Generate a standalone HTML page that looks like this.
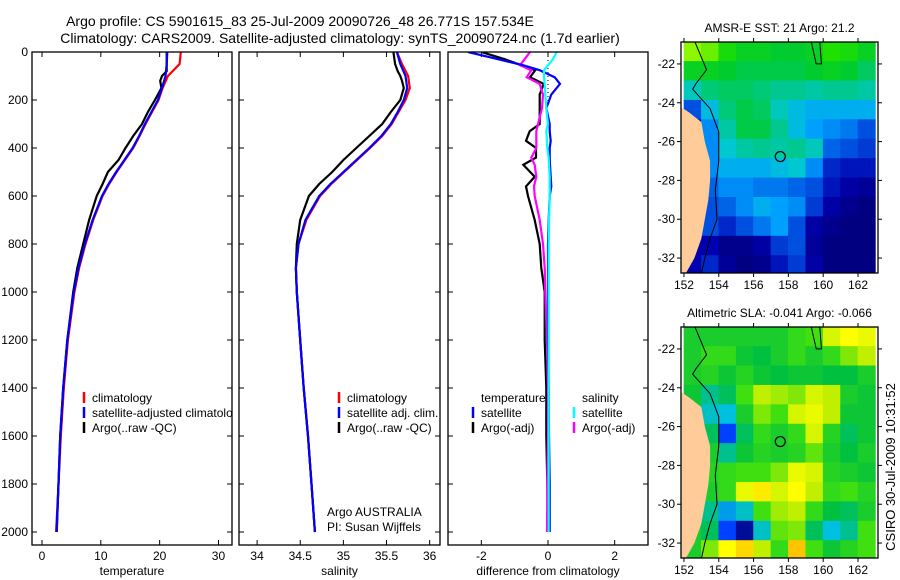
<!DOCTYPE html>
<html><head><meta charset="utf-8"><style>
body{margin:0;background:#fff}
svg{display:block;font-family:"Liberation Sans",sans-serif}
</style></head><body>
<svg id="fig" width="900" height="580" viewBox="0 0 900 580" xmlns="http://www.w3.org/2000/svg">
<text x="300" y="26" font-size="14" text-anchor="middle">Argo profile: CS 5901615_83 25-Jul-2009 20090726_48 26.771S 157.534E</text>
<text x="340" y="43" font-size="14" text-anchor="middle">Climatology: CARS2009. Satellite-adjusted climatology: synTS_20090724.nc (1.7d earlier)</text>
<text transform="translate(895,467) rotate(-90)" font-size="13" text-anchor="middle">CSIRO 30-Jul-2009 10:31:52</text>
</svg>
<script>
// ---------- profile data ----------
const depthStd = [0,50,100,150,200,250,300,350,400,450,500,550,600,700,800,900,1000,1200,1400,1600,1800,2000];
const tempClim = [23.6,23.4,21.4,20.5,19.8,18.7,17.6,16.6,15.5,14.1,12.7,11.4,10.3,8.7,7.4,6.3,5.5,4.4,3.7,3.2,2.8,2.4];
const tempSat  = [21.3,21.2,21.0,20.4,19.7,18.6,17.5,16.5,15.4,14.0,12.6,11.3,10.2,8.6,7.3,6.2,5.4,4.3,3.6,3.1,2.8,2.5];
const depthArgo = [0,50,80,100,120,150,200,250,300,350,400,450,500,550,600,700,800,900,1000,1200,1400,1600,1800,2000];
const tempArgo  = [21.2,21.2,21.2,20.4,20.1,20.3,19.2,18.0,17.0,15.5,14.2,13.0,11.2,10.3,9.3,8.0,7.0,6.0,5.3,4.3,3.6,3.1,2.8,2.5];
const salClim = [35.62,35.68,35.75,35.77,35.72,35.64,35.56,35.45,35.31,35.16,35.01,34.86,34.73,34.57,34.48,34.45,34.46,34.50,34.54,34.59,34.63,34.67];
const salSat  = [35.62,35.66,35.72,35.74,35.70,35.63,35.55,35.44,35.30,35.15,35.00,34.85,34.72,34.56,34.48,34.45,34.46,34.50,34.54,34.59,34.63,34.67];
const salArgo = [35.58,35.60,35.63,35.66,35.68,35.70,35.66,35.55,35.45,35.30,35.15,35.00,34.87,34.72,34.60,34.50,34.46,34.45,34.46,34.50,34.54,34.59,34.63,34.67];
const depthDiff = [0,30,55,76,105,133,177,234,300,330,370,400,440,470,520,560,600,700,800,900,1000,1200,1400,1600,1800,2000];
const dTempSat  = [-2.4,-1.5,-0.75,-0.25,0.2,0.36,0.1,-0.05,0.05,0.05,0.08,0.05,0.05,0.06,0.08,0.1,0.05,0.02,0.0,0.0,0.0,0.0,0.02,0.03,0.05,0.05];
const dTempArgo = [-2.0,-1.3,-0.8,-0.38,-0.54,-0.13,-0.25,-0.25,-0.25,-0.55,-0.66,-0.36,-0.36,-0.74,-0.4,-0.66,-0.6,-0.4,-0.25,-0.2,-0.1,-0.1,-0.05,-0.05,-0.02,0.0];
const dSalSat   = [0.26,0.15,0.0,-0.12,-0.12,-0.1,-0.08,-0.05,0.0,-0.05,-0.03,-0.02,0.02,0.03,0.05,0.05,0.05,0.03,0.02,0.02,0.02,0.02,0.02,0.02,0.02,0.02];
const dSalArgo  = [-0.54,-0.7,-0.84,-0.5,-0.64,-0.25,-0.15,-0.18,-0.3,-0.35,-0.35,-0.35,-0.5,-0.4,-0.35,-0.42,-0.4,-0.25,-0.15,-0.1,-0.08,-0.03,0.0,0.0,-0.02,-0.03];
const depthTicks = [0,200,400,600,800,1000,1200,1400,1600,1800,2000];
const tempTicks = [0,10,20,30];
const salTicks = [34,34.5,35,35.5,36];
const salTickLabels = ["34","34.5","35","35.5","36"];
const diffTicks = [-2,0,2];

// ---------- map data (1-degree cells, rows from -21 southward, cols 152..162) ----------
const mapLons = [152,153,154,155,156,157,158,159,160,161,162];
const mapLats = [-21,-22,-23,-24,-25,-26,-27,-28,-29,-30,-31,-32];
const sstRows = [
[22.6,22.5,22.2,22.0,22.0,21.9,21.9,22.0,22.3,22.2,22.0],
[22.0,22.0,21.9,21.8,21.8,21.8,21.8,21.9,22.0,21.9,21.7],
[21.3,21.6,21.7,21.7,21.6,21.5,21.5,21.4,21.5,21.5,21.4],
[20.5,21.1,21.6,21.8,21.7,21.3,21.1,21.0,21.0,21.0,21.0],
[20.2,20.8,21.4,21.8,21.8,21.5,21.1,20.9,20.8,20.7,20.5],
[20.3,20.8,21.2,21.4,21.5,21.4,21.5,21.3,20.6,20.5,20.4],
[20.4,20.8,21.0,21.0,21.0,21.1,21.2,20.8,20.3,20.2,20.2],
[20.5,20.6,20.8,20.8,20.7,20.7,20.6,20.5,20.2,20.0,19.9],
[20.4,20.5,20.6,20.8,21.0,20.9,20.8,20.4,20.0,19.8,19.7],
[20.0,20.5,20.3,20.5,20.7,20.9,20.5,20.0,19.8,19.7,19.7],
[20.0,20.1,19.8,19.8,20.0,20.4,20.5,19.9,19.7,19.7,19.7],
[20.1,20.3,19.9,19.7,19.8,20.2,20.4,20.0,19.7,19.7,19.7]];
const slaRows = [
[-0.05,-0.05,-0.05,-0.05,-0.05,-0.05,-0.03,-0.02,0.03,0.05,0.04],
[-0.05,-0.03,-0.03,-0.06,-0.07,-0.05,-0.03,-0.05,-0.03,0.0,0.02],
[-0.05,-0.04,-0.06,-0.04,-0.06,-0.07,-0.06,-0.06,-0.07,-0.07,-0.05],
[-0.06,-0.10,-0.08,-0.02,0.02,0.01,0.0,0.03,0.02,-0.05,-0.06],
[-0.06,-0.12,-0.13,-0.05,0.0,-0.02,0.03,0.04,0.02,-0.06,-0.06],
[-0.06,-0.08,-0.2,-0.08,-0.03,-0.05,-0.03,0.03,-0.04,-0.08,-0.06],
[-0.05,-0.05,-0.1,-0.06,-0.04,-0.05,-0.04,-0.01,-0.05,-0.07,-0.05],
[-0.05,-0.04,-0.03,-0.02,-0.02,0.0,0.04,0.03,-0.04,-0.05,-0.06],
[-0.05,-0.05,-0.03,0.04,0.06,0.03,0.05,0.02,-0.03,-0.02,-0.04],
[-0.05,-0.1,-0.15,-0.12,-0.02,0.01,0.02,-0.03,-0.07,-0.08,-0.05],
[-0.05,-0.08,-0.2,-0.28,-0.12,-0.01,0.0,-0.08,-0.13,-0.10,-0.02],
[-0.05,0.0,0.05,0.07,0.02,-0.03,0.08,-0.02,-0.06,-0.04,-0.02]];
const argoLon = 157.534, argoLat = -26.771;
const landLon = [151.8,151.8,152.3,153.0,153.2,153.5,153.5,153.4,153.2,153.0,152.6,152.1,151.8];
const landLat = [-24.2,-24.2,-24.5,-25.0,-26.0,-27.0,-28.0,-29.0,-30.0,-31.0,-32.0,-32.8,-32.8];
const isoLon = [152.6,153.3,152.7,152.5,153.5,154.0,154.0,153.8,153.9,153.5,153.2,153.0];
const isoLat = [-20.8,-22.3,-23.0,-23.3,-24.3,-25.5,-27.0,-28.5,-30.0,-31.0,-32.0,-32.8];
const isoLon2 = [159.3,159.6,159.9,159.8];
const isoLat2 = [-20.8,-22.0,-22.0,-20.8];
const latTicks = [-22,-24,-26,-28,-30,-32];
const lonTicks = [152,154,156,158,160,162];

const NS="http://www.w3.org/2000/svg";
const svg=document.getElementById('fig');
function mk(tag,attrs,parent){const e=document.createElementNS(NS,tag);for(const k in attrs)e.setAttribute(k,attrs[k]);(parent||svg).appendChild(e);return e;}

const Y0=52, Y1=545, D1=2000, DY=532;
const yD = d => Y0 + d*(DY-Y0)/D1;

function panel(name,x0,x1,xmin,xmax,ticks,labels,xlabel,showYLabels){
  const xs=v=>x0+(v-xmin)*(x1-x0)/(xmax-xmin);
  const g=mk('g',{});
  
  
  const cid='clip-'+name;
  const cp=mk('clipPath',{id:cid},g); mk('rect',{x:x0,y:Y0,width:x1-x0,height:Y1-Y0},cp);
  depthTicks.forEach(d=>{
    const y=yD(d);
    const t1=mk('line',{x1:x0,x2:x0+5,y1:y,y2:y,stroke:'#000'},g);
    
    
    mk('line',{x1:x1,x2:x1-5,y1:y,y2:y,stroke:'#000'},g);
    if(showYLabels){
      const t=mk('text',{x:x0-4,y:y+4,'font-size':12,'text-anchor':'end'},g);t.textContent=d;
      
      
    }
  });
  ticks.forEach((v,i)=>{
    const x=xs(v);
    mk('line',{x1:x,x2:x,y1:Y1,y2:Y1-5,stroke:'#000'},g);
    mk('line',{x1:x,x2:x,y1:Y0,y2:Y0+5,stroke:'#000'},g);
    const t=mk('text',{x:x,y:Y1+15,'font-size':12,'text-anchor':'middle'},g);t.textContent=labels[i];
    
    
  });
  const xl=mk('text',{x:(x0+x1)/2,y:575,'font-size':12,'text-anchor':'middle'},g);xl.textContent=xlabel;
  
  
  const inner=mk('g',{'clip-path':`url(#${cid})`},g);
  const fr=mk('rect',{x:x0,y:Y0,width:x1-x0,height:Y1-Y0,fill:'none',stroke:'#000','stroke-width':1.3},g);
  
  
  return {xs,inner,g};
}
function line(p,name,vals,depths,color){
  const pts=vals.map((v,i)=>p.xs(v).toFixed(1)+','+yD(depths[i]).toFixed(1)).join(' ');
  const l=mk('polyline',{points:pts,fill:'none',stroke:color,'stroke-width':2.2},p.inner);
  
  
}
function legend(p,x,y,color,label,name){
  const m=mk('line',{x1:x,x2:x,y1:y-10,y2:y+1,stroke:color,'stroke-width':2.5},p.inner);
  
  
  const t=mk('text',{x:x+8,y:y,'font-size':12},p.inner);t.textContent=label;
  
  
}

const p1=panel('temperature-panel',32,232,-1.7,32.3,tempTicks,tempTicks.map(String),'temperature',true);
line(p1,'temp-climatology-line',tempClim,depthStd,'#ff0000');
line(p1,'temp-argo-line',tempArgo,depthArgo,'#000');
line(p1,'temp-satellite-line',tempSat,depthStd,'#0000ff');
legend(p1,84,402,'#f00','climatology','legend-climatology');
legend(p1,84,417,'#00f','satellite-adjusted climatology','legend-satellite-adjusted');
legend(p1,84,432,'#000','Argo(..raw -QC)','legend-argo');

const p2=panel('salinity-panel',239,440,33.79,36.12,salTicks,salTickLabels,'salinity',false);
line(p2,'sal-climatology-line',salClim,depthStd,'#ff0000');
line(p2,'sal-argo-line',salArgo,depthArgo,'#000');
line(p2,'sal-satellite-line',salSat,depthStd,'#0000ff');
legend(p2,339,402,'#f00','climatology','legend-sal-climatology');
legend(p2,339,417,'#00f','satellite adj. clim.','legend-sal-satellite');
legend(p2,339,432,'#000','Argo(..raw -QC)','legend-sal-argo');
[['Argo AUSTRALIA',516,'float-owner-label'],['PI: Susan Wijffels',531,'pi-label']].forEach(a=>{
  const t=mk('text',{x:327,y:a[1],'font-size':12},p2.g);t.textContent=a[0];
  
  
});

const p3=panel('difference-panel',448,648,-3,3,diffTicks,diffTicks.map(String),'difference from climatology',false);
const zl=mk('line',{x1:p3.xs(0),x2:p3.xs(0),y1:yD(0),y2:yD(220),stroke:'#000','stroke-dasharray':'1,3'},p3.inner);


line(p3,'diff-temp-argo-line',dTempArgo,depthDiff,'#000');
line(p3,'diff-sal-argo-line',dSalArgo,depthDiff,'#ff00ff');
line(p3,'diff-temp-satellite-line',dTempSat,depthDiff,'#0000ff');
line(p3,'diff-sal-satellite-line',dSalSat,depthDiff,'#00ffff');
const lt=mk('text',{x:481,y:402,'font-size':12},p3.inner);lt.textContent='temperature';


const ls=mk('text',{x:582,y:402,'font-size':12},p3.inner);ls.textContent='salinity';


legend(p3,473,417,'#00f','satellite','legend-diff-temp-satellite');
legend(p3,473,432,'#000','Argo(-adj)','legend-diff-temp-argo');
legend(p3,574,417,'#0ff','satellite','legend-diff-sal-satellite');
legend(p3,574,432,'#f0f','Argo(-adj)','legend-diff-sal-argo');

// ---------- maps ----------
function hex(c){return [parseInt(c.substr(1,2),16),parseInt(c.substr(3,2),16),parseInt(c.substr(5,2),16)];}
function cmap(stops,v){
  if(v<=stops[0][0])return stops[0][1];
  for(let i=1;i<stops.length;i++){if(v<=stops[i][0]){const a=hex(stops[i-1][1]),b=hex(stops[i][1]);const f=(v-stops[i-1][0])/(stops[i][0]-stops[i-1][0]);return 'rgb('+a.map((q,k)=>Math.round(q+(b[k]-q)*f)).join(',')+')';}}
  return stops[stops.length-1][1];
}
const sstStops=[[19.7,'#000080'],[20.1,'#0000b0'],[20.5,'#0050e0'],[20.9,'#00a0ff'],[21.2,'#00c8d0'],[21.5,'#00c890'],[21.9,'#00cc30'],[22.3,'#20e000'],[22.7,'#b0ff00']];
const slaStops=[[-0.3,'#000080'],[-0.2,'#0040ff'],[-0.13,'#00c0e0'],[-0.07,'#00c040'],[-0.02,'#40e010'],[0.02,'#c0f000'],[0.05,'#ffff00'],[0.09,'#ffb000']];

function map(name,top,rows,stops,title){
  const x0=681,x1=878,y0=top,y1=top+231;
  const lonMin=151.83,lonMax=163.15,latTop=-20.87,latBot=-32.77;
  const X=lo=>x0+(lo-lonMin)*(x1-x0)/(lonMax-lonMin);
  const Y=la=>y0+(latTop-la)*(y1-y0)/(latTop-latBot);
  const g=mk('g',{});
  
  
  const cid='clip-'+name;
  const cp=mk('clipPath',{id:cid},g); mk('rect',{x:x0,y:y0,width:x1-x0,height:y1-y0},cp);
  const inner=mk('g',{'clip-path':`url(#${cid})`},g);
  rows.forEach((row,r)=>row.forEach((v,c)=>{
    const la=mapLats[r], lo=mapLons[c];
    const rc=mk('rect',{x:X(lo)-0.3,y:Y(la+0.13)-0.3,width:X(lo+1)-X(lo)+0.6,height:Y(la-1)-Y(la)+0.6,fill:cmap(stops,v)},inner);
    
    
  }));
  const land=mk('polygon',{points:landLon.map((lo,i)=>X(lo)+','+Y(landLat[i])).join(' ')+' '+X(151.5)+','+Y(-33)+' '+X(151.5)+','+Y(-24.2),fill:'#ffcc99'},inner);
  
  
  [[isoLon,isoLat],[isoLon2,isoLat2]].forEach(a=>{
    const c=mk('polyline',{points:a[0].map((lo,i)=>X(lo)+','+Y(a[1][i])).join(' '),fill:'none',stroke:'#000','stroke-width':1},inner);
    
    
  });
  const ci=mk('circle',{cx:X(argoLon),cy:Y(argoLat),r:5,fill:'none',stroke:'#000','stroke-width':1.2},inner);
  
  
  mk('rect',{x:x0,y:y0,width:x1-x0,height:y1-y0,fill:'none',stroke:'#000','stroke-width':1.3},g);
  latTicks.forEach(la=>{
    const y=Y(la);
    mk('line',{x1:x0-4,x2:x0,y1:y,y2:y,stroke:'#000'},g);
    mk('line',{x1:x1,x2:x1+4,y1:y,y2:y,stroke:'#000'},g);
    const t=mk('text',{x:x0-6,y:y+4,'font-size':12,'text-anchor':'end'},g);t.textContent=la;
    
    
  });
  lonTicks.forEach(lo=>{
    const x=X(lo);
    mk('line',{x1:x,x2:x,y1:y0-4,y2:y0,stroke:'#000'},g);
    mk('line',{x1:x,x2:x,y1:y1,y2:y1+4,stroke:'#000'},g);
    const t=mk('text',{x:x,y:y1+16,'font-size':12,'text-anchor':'middle'},g);t.textContent=lo;
    
    
  });
  const tt=mk('text',{x:(x0+x1)/2,y:y0-10,'font-size':12,'text-anchor':'middle'},g);tt.textContent=title;
  
  
}
map('sst-map',42,sstRows,sstStops,'AMSR-E SST: 21 Argo: 21.2');
map('sla-map',327,slaRows,slaStops,'Altimetric SLA: -0.041 Argo: -0.066');
</script>
</body></html>
